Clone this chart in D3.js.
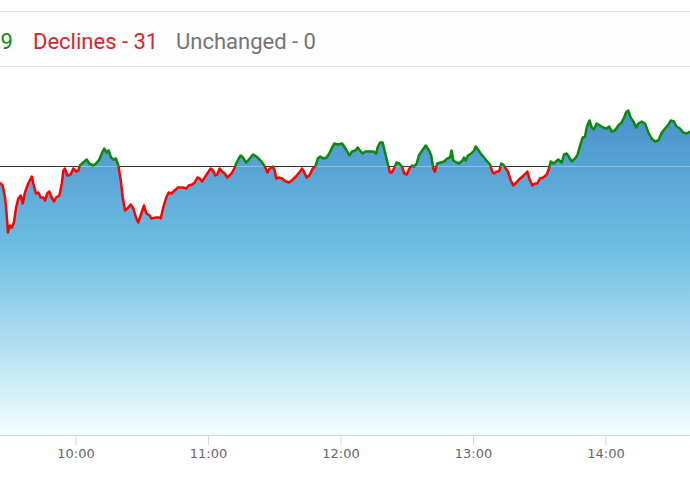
<!DOCTYPE html>
<html>
<head>
<meta charset="utf-8">
<script src="https://cdn.jsdelivr.net/npm/d3@7"></script>
<style>
  html, body { margin: 0; padding: 0; background: #ffffff; }
  svg { display: block; }
</style>
</head>
<body>
<svg id="chart" width="690" height="481"></svg>
<script>
// ---- data ----
// minutes since market open (09:15)
const minutes = [10.8,12.0,13.1,13.8,14.4,15.3,16.2,17.1,18.1,19.1,20.2,21.1,22.1,23.6,25.2,25.9,27.1,28.2,29.2,30.4,31.2,32.2,33.1,34.2,35.3,36.2,37.7,38.8,39.5,40.2,41.3,42.8,44.0,45.2,46.3,47.0,48.5,50.1,51.2,53.1,54.3,55.8,56.9,58.0,59.1,60.0,61.1,62.1,63.3,64.4,65.5,66.4,67.4,68.9,70.0,71.2,72.4,73.4,74.5,76.0,77.1,78.6,79.3,81.6,82.7,83.6,84.6,86.1,87.2,88.4,89.9,91.4,93.7,95.2,96.3,97.8,99.0,100.2,101.2,102.3,103.5,105.0,106.2,107.3,108.3,109.2,110.3,111.3,112.6,113.7,114.8,115.9,117.1,117.8,118.9,119.8,120.8,122.3,123.9,125.4,126.9,128.4,129.5,130.7,131.9,133.0,134.4,135.2,135.9,137.0,138.5,140.3,141.8,143.4,144.8,146.3,147.6,148.6,149.7,150.9,152.4,153.6,154.7,155.8,157.2,158.7,159.9,161.2,162.2,163.7,165.7,166.7,167.8,169.0,170.2,171.7,172.8,173.8,175.0,176.2,178.0,179.9,181.1,181.8,182.9,184.1,185.3,186.4,187.4,188.3,189.4,190.4,191.6,192.8,193.9,195.0,196.2,197.4,198.4,199.5,200.5,202.0,203.6,205.1,206.1,207.0,207.8,208.8,210.4,211.9,213.4,214.6,215.3,216.1,217.6,218.7,220.2,220.9,221.7,222.7,224.2,225.5,226.2,227.3,228.5,230.0,231.5,232.7,233.7,234.5,235.7,236.8,237.8,238.7,239.8,240.8,242.1,243.2,244.3,245.4,246.9,248.4,249.6,250.8,251.9,253.0,254.1,255.3,256.8,258.4,259.4,260.2,261.4,262.1,263.6,265.2,266.2,267.4,268.6,269.7,271.2,272.2,273.5,274.7,275.7,276.5,277.7,278.8,279.8,281.0,282.5,284.0,285.5,286.7,287.8,289.3,290.8,292.3,293.4,294.3,295.3,296.4,297.9,298.8,299.9,301.4,302.9,304.4,305.9,307.4,308.9,310.5,312.0,313.5,314.5,316.0,317.2,318.7,320.2,321.8,323.3];
// change vs previous close (points)
const change = [-16,-19,-31,-47,-66,-59,-61,-56,-41,-32,-29,-37,-26,-17,-10,-17,-27,-26,-31,-31,-34,-27,-25,-31,-35,-31,-29,-17,-4,-2,-9,-8,-2,-5,-4,1,4,7,3,1,3,7,13,18,14,16,9,7,8,1,-14,-31,-44,-41,-38,-42,-51,-56,-49,-39,-47,-49,-52,-51,-51,-52,-42,-31,-26,-27,-24,-21,-21,-22,-19,-18,-16,-11,-12,-15,-11,-6,-2,-4,-9,-8,-2,-5,-7,-11,-9,-6,-1,3,8,11,9,4,8,12,10,7,4,0,-6,-2,0,-4,-12,-11,-12,-15,-16,-13,-10,-6,-2,-6,-11,-9,-2,0,8,10,8,9,13,19,23,22,23,20,16,11,15,16,19,16,13,15,15,15,13,19,24,24,13,3,-6,-6,-1,4,3,0,-7,-8,-2,1,0,3,11,16,21,16,11,-2,-5,3,4,5,8,9,16,6,4,3,6,9,6,11,13,16,20,17,13,9,5,2,-5,-7,-5,-5,3,2,-2,-5,-14,-19,-17,-14,-11,-8,-5,-14,-19,-17,-17,-12,-11,-8,-2,5,3,4,7,4,12,13,9,5,8,11,21,29,30,39,46,39,37,43,41,39,38,40,35,36,41,44,49,54,56,49,44,39,43,45,43,34,28,25,26,34,38,42,46,45,40,38,34,33,35];
const tickTimes = ["10:00","11:00","12:00","13:00","14:00"];
const headerItems = [
  {label: "Advances - 19", color: "#0f8a16"},
  {label: "Declines - 31", color: "#d7262e"},
  {label: "Unchanged - 0", color: "#757575"}
];

// ---- setup ----
const W = 690, H = 481;
const svg = d3.select("#chart");
const day = (h, m) => new Date(2024, 0, 2, h, m, 0);
const open = day(9, 15);
const data = minutes.map((m, i) => ({t: new Date(+open + m * 60000), v: change[i]}));

const plotBottom = 435;
const x = d3.scaleTime().domain([day(10, 0), day(14, 0)]).range([75.5, 605.5]);
const y = d3.scaleLinear().domain([-268.5, 0]).range([plotBottom, 166.5]);

// header
svg.append("line").attr("x1", 0).attr("x2", W).attr("y1", 11.5).attr("y2", 11.5)
  .attr("stroke", "#e3e3e3").attr("stroke-width", 1);
svg.append("rect").attr("x", 0).attr("y", 12).attr("width", W).attr("height", 54).attr("fill", "#fdfdfd");
svg.append("line").attr("x1", 0).attr("x2", W).attr("y1", 66.5).attr("y2", 66.5)
  .attr("stroke", "#e3e3e3").attr("stroke-width", 1);

const hdr = svg.append("g").attr("font-family", "Roboto, sans-serif").attr("font-size", 22);
hdr.append("text").attr("x", 13).attr("y", 48.5).attr("text-anchor", "end")
  .attr("fill", headerItems[0].color).text(headerItems[0].label);
hdr.append("text").attr("x", 33).attr("y", 48.5)
  .attr("fill", headerItems[1].color).text(headerItems[1].label);
hdr.append("text").attr("x", 176).attr("y", 48.5)
  .attr("fill", headerItems[2].color).text(headerItems[2].label);

// gradient
const defs = svg.append("defs");
const grad = defs.append("linearGradient").attr("id", "areaGrad")
  .attr("gradientUnits", "userSpaceOnUse")
  .attr("x1", 0).attr("x2", 0).attr("y1", 100).attr("y2", plotBottom);
grad.append("stop").attr("offset", 0).attr("stop-color", "#468dc8");
grad.append("stop").attr("offset", 0.45).attr("stop-color", "#6ebfe3");
grad.append("stop").attr("offset", 1).attr("stop-color", "#f3feff");

defs.append("clipPath").attr("id", "above").append("rect")
  .attr("x", -10).attr("y", 0).attr("width", W + 20).attr("height", y(0));
defs.append("clipPath").attr("id", "below").append("rect")
  .attr("x", -10).attr("y", y(0)).attr("width", W + 20).attr("height", H - y(0));

const area = d3.area().x(d => x(d.t)).y0(plotBottom).y1(d => y(d.v));
defs.append("clipPath").attr("id", "areaClip").append("path").datum(data).attr("d", area);

// baseline (previous close) under the area
svg.append("line").attr("x1", 0).attr("x2", W).attr("y1", y(0)).attr("y2", y(0))
  .attr("stroke", "#333").attr("stroke-width", 1);

svg.append("path").datum(data).attr("d", area).attr("fill", "url(#areaGrad)");

// lighter baseline showing through the area
svg.append("line").attr("x1", 0).attr("x2", W).attr("y1", y(0)).attr("y2", y(0))
  .attr("stroke", "#d0d8de").attr("stroke-opacity", 0.55).attr("stroke-width", 1)
  .attr("clip-path", "url(#areaClip)");

const line = d3.line().x(d => x(d.t)).y(d => y(d.v));
svg.append("path").datum(data).attr("d", line).attr("fill", "none")
  .attr("stroke", "#0a8a0a").attr("stroke-width", 2.5).attr("stroke-linejoin", "round")
  .attr("clip-path", "url(#above)");
svg.append("path").datum(data).attr("d", line).attr("fill", "none")
  .attr("stroke", "#ff0000").attr("stroke-width", 2.5).attr("stroke-linejoin", "round")
  .attr("clip-path", "url(#below)");

// x axis
const xAxis = d3.axisBottom(x)
  .tickValues(tickTimes.map(s => { const [h, m] = s.split(":").map(Number); return day(h, m); }))
  .tickFormat(d3.timeFormat("%H:%M"))
  .tickSize(10).tickSizeOuter(0);
const gx = svg.append("g").attr("transform", `translate(0,${plotBottom})`).call(xAxis);
gx.select(".domain").remove();
gx.append("line").attr("x1", 0).attr("x2", W).attr("y1", 0.5).attr("y2", 0.5)
  .attr("stroke", "#ccd6eb").attr("stroke-width", 1);
gx.selectAll(".tick line").attr("stroke", "#ccd6eb");
gx.selectAll(".tick text").attr("fill", "#666").attr("font-family", "DejaVu Sans, sans-serif")
  .attr("font-size", 13).attr("dy", 0).attr("y", 23);
</script>
</body>
</html>
